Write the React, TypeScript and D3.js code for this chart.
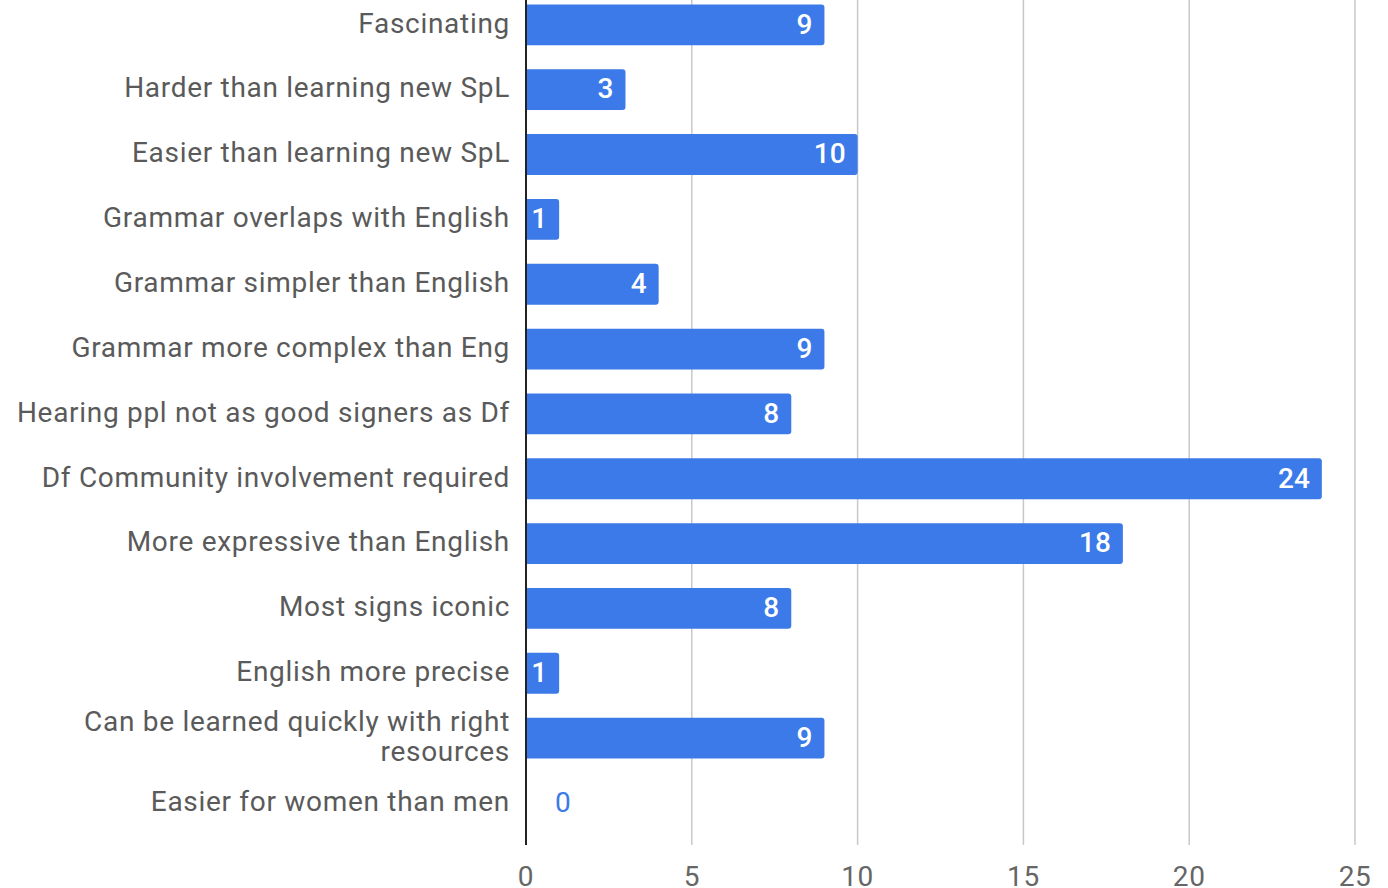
import React from 'react';
import * as d3 from 'd3';

const categories: string[][] = [
    ['Fascinating'],
    ['Harder than learning new SpL'],
    ['Easier than learning new SpL'],
    ['Grammar overlaps with English'],
    ['Grammar simpler than English'],
    ['Grammar more complex than Eng'],
    ['Hearing ppl not as good signers as Df'],
    ['Df Community involvement required'],
    ['More expressive than English'],
    ['Most signs iconic'],
    ['English more precise'],
    ['Can be learned quickly with right', 'resources'],
    ['Easier for women than men'],
];
const counts: number[] = [9, 3, 10, 1, 4, 9, 8, 24, 18, 8, 1, 9, 0];
const tickValues: number[] = [0, 5, 10, 15, 20, 25];

const width = 1388;
const height = 888;
const left = 526;
const font = 'Roboto, "Noto Sans", sans-serif';

export default function App() {
    const x = d3.scaleLinear([0, 25], [left, 1355]);
    const keys = categories.map((_c, i) => String(i));
    const y = d3.scaleBand(keys, [-7.6, 835.4]).paddingInner(0.37).paddingOuter(0.185);
    const bw = y.bandwidth();

    return (
        <svg width={width} height={height} style={{ position: 'absolute', left: 0, top: 0, background: '#fff' }}>
            {tickValues.map(t => (
                <g key={t}>
                    {t > 0 && <line x1={x(t)} x2={x(t)} y1={0} y2={845} stroke="#c8c8c8" strokeWidth={1.5} />}
                    <text x={x(t)} y={886} textAnchor="middle" fontFamily={font} fontSize={28} letterSpacing={0.6} fill="#666">{t}</text>
                </g>
            ))}
            {counts.map((v, i) => {
                const y0 = y(String(i))!;
                const cy = y0 + bw / 2;
                const lines = categories[i];
                return (
                    <g key={i}>
                        {v > 0 && (
                            <path
                                d={`M${x(0)},${y0}H${x(v) - 3}Q${x(v)},${y0} ${x(v)},${y0 + 3}V${y0 + bw - 3}Q${x(v)},${y0 + bw} ${x(v) - 3},${y0 + bw}H${x(0)}Z`}
                                fill="#3b7ae8"
                            />
                        )}
                        {v > 0 ? (
                            <text x={x(v) - 12} y={cy - 1} dy="0.35em" textAnchor="end" fontFamily={font} fontSize={28} fontWeight={500} fill="#fff">{v}</text>
                        ) : (
                            <text x={x(0) + 29} y={cy - 1} dy="0.35em" textAnchor="start" fontFamily={font} fontSize={28} fill="#3b7ae8">{v}</text>
                        )}
                        {lines.map((ln, j) => (
                            <text
                                key={j}
                                x={510}
                                y={cy - 2 + (j - (lines.length - 1) / 2) * 30}
                                dy="0.35em"
                                textAnchor="end"
                                fontFamily={font}
                                fontSize={28}
                                letterSpacing={0.7}
                                fill="#5a5a5a"
                            >{ln}</text>
                        ))}
                    </g>
                );
            })}
            <line x1={x(0)} x2={x(0)} y1={0} y2={845} stroke="#222" strokeWidth={2} />
        </svg>
    );
}
